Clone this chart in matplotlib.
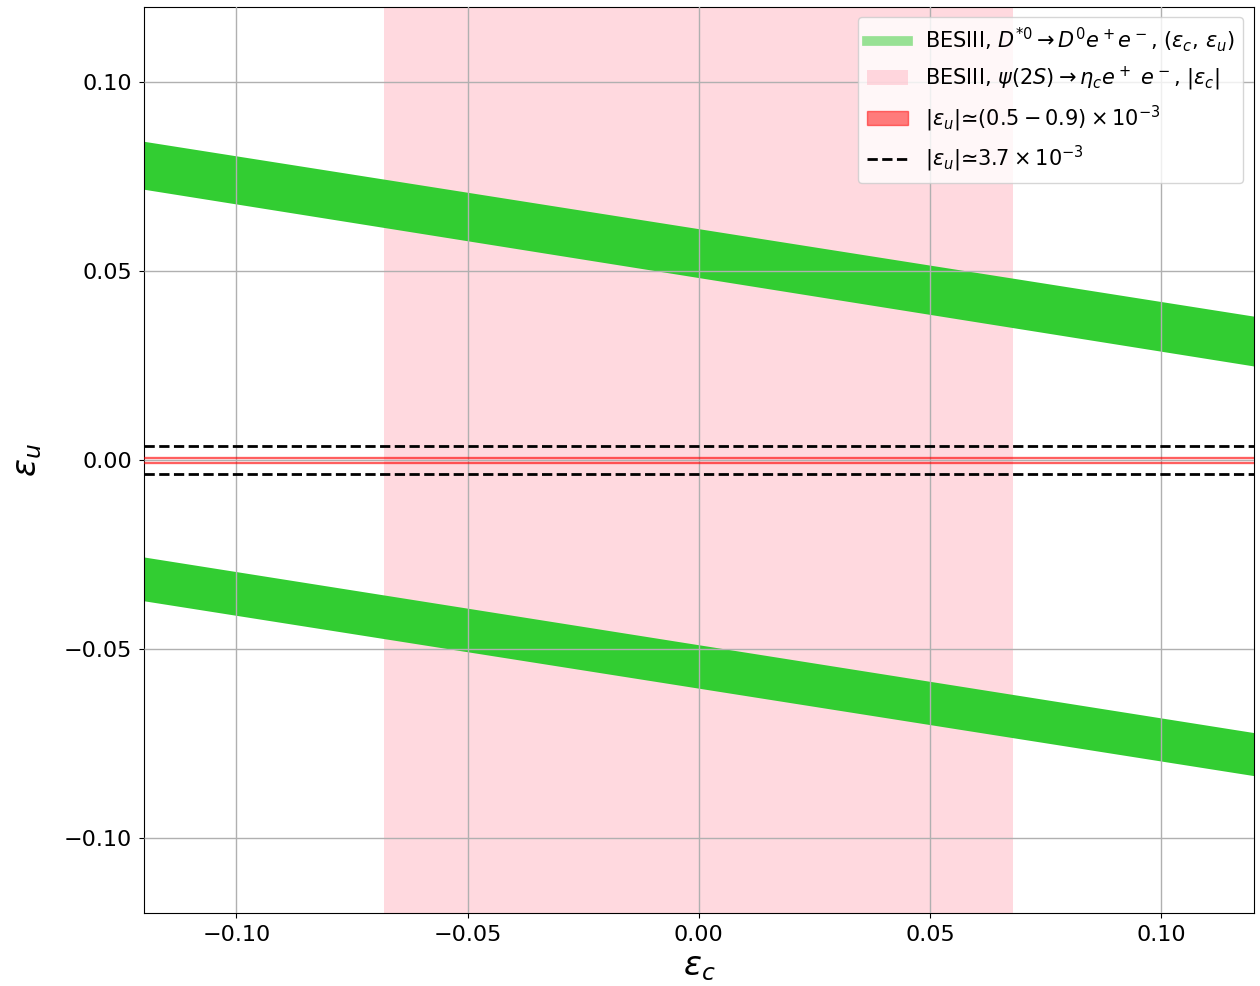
import matplotlib
matplotlib.use("Agg")
import matplotlib.pyplot as plt
from matplotlib.lines import Line2D
from matplotlib.patches import Patch

# Data
eps_c_ends = [-0.12, 0.12]
upper_band_lo = [0.0717, 0.0249]
upper_band_hi = [0.0844, 0.0381]
lower_band_lo = [-0.0373, -0.0836]
lower_band_hi = [-0.0257, -0.0722]
eps_c_limit = 0.068
eps_u_range = [0.0005, 0.0009]
eps_u_dashed = 0.0037

fig = plt.figure(figsize=(12.6, 9.86), dpi=100)
ax = fig.add_axes([0.1143, 0.074, 0.8807, 0.919])

ax.axvspan(-eps_c_limit, eps_c_limit, color='pink', alpha=0.6, lw=0, zorder=1)
ax.fill_between(eps_c_ends, upper_band_lo, upper_band_hi, color='limegreen', lw=0, zorder=2)
ax.fill_between(eps_c_ends, lower_band_lo, lower_band_hi, color='limegreen', lw=0, zorder=2)
ax.axhspan(eps_u_range[0], eps_u_range[1], color='red', alpha=0.5, zorder=3)
ax.axhspan(-eps_u_range[1], -eps_u_range[0], color='red', alpha=0.5, zorder=3)
ax.axhline(eps_u_dashed, color='black', ls='--', lw=2, zorder=4)
ax.axhline(-eps_u_dashed, color='black', ls='--', lw=2, zorder=4)

ax.set_xlim(-0.12, 0.12)
ax.set_ylim(-0.12, 0.12)
ax.set_xticks([-0.10, -0.05, 0.0, 0.05, 0.10])
ax.set_yticks([-0.10, -0.05, 0.0, 0.05, 0.10])
ax.tick_params(labelsize=16, pad=5)
ax.grid(True, color='#b0b0b0', lw=1, zorder=1.5)
ax.set_axisbelow(False)
ax.set_xlabel(r'$\varepsilon_c$', fontsize=24, labelpad=4)
ax.set_ylabel(r'$\varepsilon_u$', fontsize=24, labelpad=14)

handles = [
    Line2D([], [], color='limegreen', alpha=0.5, lw=7),
    Patch(facecolor='pink', alpha=0.6, edgecolor='none'),
    Patch(facecolor='red', alpha=0.5, edgecolor='red'),
    Line2D([], [], color='black', ls='--', lw=2),
]
labels = [
    r'BESIII, $D^{*0}\to D^0 e^+e^-$, $(\varepsilon_c,\, \varepsilon_u)$',
    r'BESIII, $\psi(2S)\to \eta_c e^+\ e^-$, $|\varepsilon_c|$',
    r'$|\varepsilon_u|$≃$(0.5-0.9)\times 10^{-3}$',
    r'$|\varepsilon_u|$≃$3.7\times 10^{-3}$',
]
ax.legend(handles, labels, loc='upper right', fontsize=15, labelspacing=0.5)

fig.savefig('out.png', dpi=100)
